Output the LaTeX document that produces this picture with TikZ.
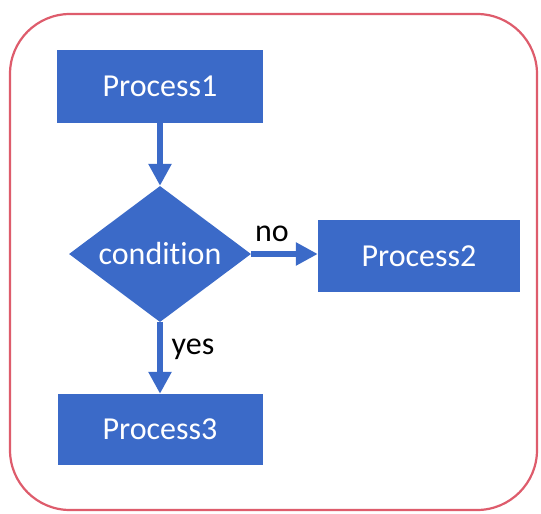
\documentclass[tikz,border=0pt]{standalone}
\usepackage{fontspec}
\setmainfont[Ligatures=NoCommon]{Carlito}
\usetikzlibrary{shapes.geometric,arrows.meta}
\definecolor{boxblue}{RGB}{59,106,200}
\definecolor{frame}{RGB}{222,92,108}
\begin{document}
\begin{tikzpicture}[x=1pt,y=-1pt,
  txt/.style={font=\fontsize{32}{38}\selectfont},
  procbox/.style={txt,rectangle,fill=boxblue,text=white,inner sep=0pt},
  decision/.style={txt,diamond,aspect=1.34,fill=boxblue,text=white,inner sep=0pt,
    minimum width=182pt,minimum height=136pt},
  flow/.style={draw=boxblue,line width=6pt,
    -{Triangle[length=22pt,width=22pt]}},
  tag/.style={txt,text=black,inner sep=0pt}]
  \useasboundingbox (0,0) rectangle (541,514);
  \fill[white] (0,0) rectangle (541,514);
  % outer frame
  \draw[frame,line width=2.2pt,rounded corners=60pt] (10,14) rectangle (537,510);
  % steps
  \node[procbox,minimum width=206pt,minimum height=73pt] (p1) at (160,86.5) {Process1};
  \node[decision] (cond) at (160,254) {condition};
  \node[procbox,minimum width=202pt,minimum height=72pt] (p2) at (419,256) {Process2};
  \node[procbox,minimum width=205pt,minimum height=71pt] (p3) at (160,429.5) {Process3};
  % connectors
  \draw[flow] (p1.south) -- (cond.north);
  \draw[flow] (cond.east) -- (cond.east -| p2.west);
  \draw[flow] (cond.south) -- (p3.north);
  % branch labels
  \node[tag] (lno) at (272,234) {no};
  \node[tag] (lyes) at (193,349) {yes};
\end{tikzpicture}
\end{document}
